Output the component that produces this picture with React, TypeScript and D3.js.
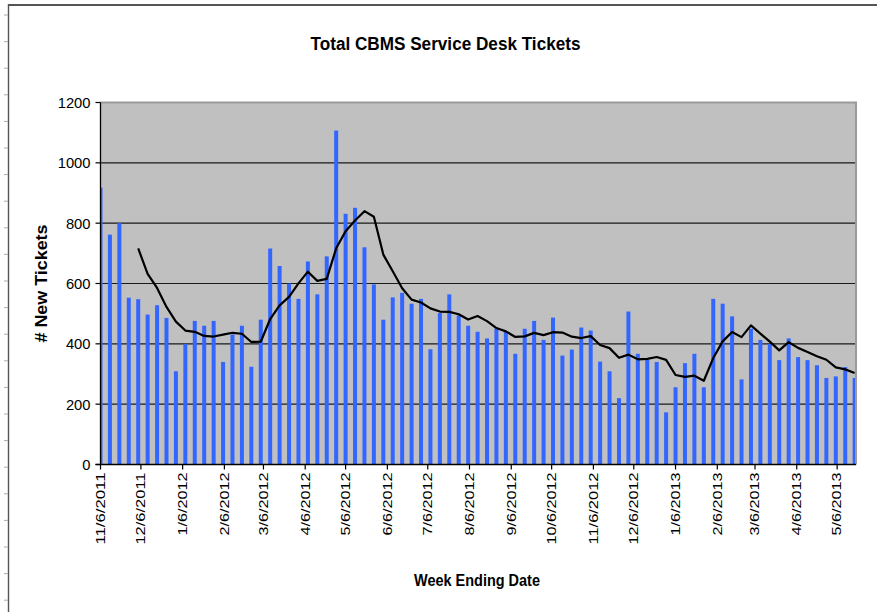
import React from 'react';
import * as d3 from 'd3';

const weekEnding = [
  '2011-11-06', '2011-11-13', '2011-11-20', '2011-11-27', '2011-12-04', '2011-12-11', '2011-12-18', '2011-12-25',
  '2012-01-01', '2012-01-08', '2012-01-15', '2012-01-22', '2012-01-29', '2012-02-05', '2012-02-12', '2012-02-19',
  '2012-02-26', '2012-03-04', '2012-03-11', '2012-03-18', '2012-03-25', '2012-04-01', '2012-04-08', '2012-04-15',
  '2012-04-22', '2012-04-29', '2012-05-06', '2012-05-13', '2012-05-20', '2012-05-27', '2012-06-03', '2012-06-10',
  '2012-06-17', '2012-06-24', '2012-07-01', '2012-07-08', '2012-07-15', '2012-07-22', '2012-07-29', '2012-08-05',
  '2012-08-12', '2012-08-19', '2012-08-26', '2012-09-02', '2012-09-09', '2012-09-16', '2012-09-23', '2012-09-30',
  '2012-10-07', '2012-10-14', '2012-10-21', '2012-10-28', '2012-11-04', '2012-11-11', '2012-11-18', '2012-11-25',
  '2012-12-02', '2012-12-09', '2012-12-16', '2012-12-23', '2012-12-30', '2013-01-06', '2013-01-13', '2013-01-20',
  '2013-01-27', '2013-02-03', '2013-02-10', '2013-02-17', '2013-02-24', '2013-03-03', '2013-03-10', '2013-03-17',
  '2013-03-24', '2013-03-31', '2013-04-07', '2013-04-14', '2013-04-21', '2013-04-28', '2013-05-05', '2013-05-12',
  '2013-05-19',
];

const newTickets = [
  918, 762, 800, 553, 548, 497, 528, 486, 309, 400, 476, 460, 476, 340, 431, 460,
  324, 480, 716, 658, 600, 549, 673, 564, 690, 1107, 831, 851, 720, 597, 480, 554,
  569, 533, 549, 382, 502, 564, 494, 460, 440, 418, 450, 439, 367, 450, 476, 413,
  487, 361, 381, 454, 444, 341, 309, 220, 507, 367, 347, 340, 173, 256, 336, 367,
  256, 549, 533, 491, 282, 450, 413, 400, 346, 418, 356, 346, 329, 287, 292, 323,
  287,
];

const movingAverage: (number | null)[] = [
  null, null, null, null, 716.2, 632, 585.2, 522.4, 473.6, 444, 439.8, 426.2, 424.2, 430.4, 436.6, 433.4,
  406.2, 407, 482.2, 527.6, 555.6, 600.6, 639.2, 608.8, 615.2, 716.6, 773, 808.6, 839.8, 821.2, 695.8, 640.4,
  584, 546.6, 537, 517.4, 507, 506, 498.2, 480.4, 492, 475.2, 452.4, 441.4, 422.8, 424.8, 436.4, 429,
  438.6, 437.4, 423.6, 419.2, 425.4, 396.2, 385.8, 353.6, 364.2, 348.8, 350, 356.2, 346.8, 296.6, 290.4, 294.4,
  277.6, 352.8, 408.2, 439.2, 422.2, 461, 433.8, 407.2, 378.2, 405.4, 386.6, 373.2, 359, 347.2, 322, 315.4,
  303.6,
];

const xTickDates = [
  '2011-11-06', '2011-12-06', '2012-01-06', '2012-02-06', '2012-03-06', '2012-04-06', '2012-05-06',
  '2012-06-06', '2012-07-06', '2012-08-06', '2012-09-06', '2012-10-06', '2012-11-06', '2012-12-06',
  '2013-01-06', '2013-02-06', '2013-03-06', '2013-04-06', '2013-05-06',
];
const xTickLabels = [
  '11/6/2011', '12/6/2011', '1/6/2012', '2/6/2012', '3/6/2012', '4/6/2012', '5/6/2012',
  '6/6/2012', '7/6/2012', '8/6/2012', '9/6/2012', '10/6/2012', '11/6/2012', '12/6/2012',
  '1/6/2013', '2/6/2013', '3/6/2013', '4/6/2013', '5/6/2013',
];
const yTicks = [0, 200, 400, 600, 800, 1000, 1200];

const axisStart = '2011-11-06';
const axisEnd = '2013-05-20';

const W = 877;
const H = 612;
const PL = 100.5;
const PR = 856;
const PT = 102.5;
const PB = 464.5;

const FONT = '"Liberation Sans", Arial, Helvetica, sans-serif';

function labelLen(s: string) {
  let em = 0;
  for (const ch of s) em += ch === '/' ? 0.278 : 0.556;
  return em * 16.2;
}

export default function App() {
  const parse = d3.utcParse('%Y-%m-%d');
  const x = d3.scaleUtc().domain([parse(axisStart)!, parse(axisEnd)!]).range([PL, PR]);
  const y = d3.scaleLinear().domain([0, 1200]).range([PB, PT]);

  const dates = weekEnding.map((d) => parse(d)!);
  const line = d3
    .line<number>()
    .defined((_, i) => movingAverage[i] != null)
    .x((_, i) => x(dates[i]))
    .y((_, i) => y(movingAverage[i] as number));
  const linePath = line(newTickets.map((_, i) => i)) || '';

  const rulerYs = d3.range(15, H, 26.6);
  const barW = 4;

  return (
    <svg
      width={W}
      height={H}
      style={{ position: 'absolute', left: 0, top: 0, background: '#fff' }}
      fontFamily={FONT}
    >
      <defs>
        <clipPath id="plotClip">
          <rect x={PL} y={PT} width={PR - PL} height={PB - PT} />
        </clipPath>
      </defs>
      <rect x={0} y={0} width={W} height={H} fill="#fff" />
      {/* outer frame */}
      <line x1={8.5} y1={5} x2={W} y2={5} stroke="#555" strokeWidth={2} />
      <line x1={8.5} y1={4} x2={8.5} y2={H} stroke="#555" strokeWidth={1.4} />
      {rulerYs.map((ry, i) => (
        <line key={i} x1={4} x2={8} y1={ry} y2={ry} stroke="#aaa" strokeWidth={1} />
      ))}

      {/* title */}
      <text
        x={445.5}
        y={50}
        textAnchor="middle"
        fontSize={18}
        fontWeight="bold"
        textLength={270}
        lengthAdjust="spacingAndGlyphs"
        fill="#000"
      >
        Total CBMS Service Desk Tickets
      </text>

      {/* plot area */}
      <rect x={PL} y={PT} width={PR - PL} height={PB - PT} fill="#c0c0c0" />
      {yTicks
        .filter((t) => t > 0 && t < 1200)
        .map((t) => (
          <line key={t} x1={PL} x2={PR} y1={y(t)} y2={y(t)} stroke="#1a1a1a" strokeWidth={1.2} />
        ))}

      {/* bars */}
      <g clipPath="url(#plotClip)">
        {newTickets.map((v, i) => (
          <rect
            key={i}
            x={x(dates[i]) - barW / 2}
            y={y(v)}
            width={barW}
            height={PB - y(v)}
            fill="#3366ff"
          />
        ))}
      </g>
      <polyline
        points={`${PL},${PT} ${PR},${PT} ${PR},${PB}`}
        fill="none"
        stroke="#9a9a9a"
        strokeWidth={2}
      />

      {/* moving average */}
      <path d={linePath} fill="none" stroke="#000" strokeWidth={2.2} strokeLinejoin="round" />

      {/* axes */}
      <line x1={PL} x2={PL} y1={PT} y2={PB} stroke="#000" strokeWidth={1.3} />
      <line x1={PL - 5} x2={PR} y1={PB} y2={PB} stroke="#000" strokeWidth={1.3} />
      {yTicks.map((t) => (
        <g key={t}>
          <line x1={PL - 5} x2={PL} y1={y(t)} y2={y(t)} stroke="#000" strokeWidth={1.2} />
          <text
            x={90.5}
            y={y(t) + 5.5}
            textAnchor="end"
            fontSize={15.5}
            textLength={String(t).length * 8.2}
            lengthAdjust="spacingAndGlyphs"
            fill="#000"
          >
            {t}
          </text>
        </g>
      ))}
      {xTickDates.map((d, i) => {
        const tx = x(parse(d)!);
        return (
          <g key={d}>
            <line x1={tx} x2={tx} y1={PB} y2={PB + 5} stroke="#000" strokeWidth={1.2} />
            <text
              transform={`translate(${tx},${PB + 8}) rotate(-90)`}
              textAnchor="end"
              dy="0.36em"
              fontSize={12}
              textLength={labelLen(xTickLabels[i])}
              lengthAdjust="spacingAndGlyphs"
              fill="#000"
            >
              {xTickLabels[i]}
            </text>
          </g>
        );
      })}

      {/* axis titles */}
      <text
        transform={`translate(47,${(PT + PB) / 2}) rotate(-90)`}
        textAnchor="middle"
        fontSize={16}
        fontWeight="bold"
        textLength={118}
        lengthAdjust="spacingAndGlyphs"
        fill="#000"
      >
        # New Tickets
      </text>
      <text
        x={477}
        y={586}
        textAnchor="middle"
        fontSize={16}
        fontWeight="bold"
        textLength={126}
        lengthAdjust="spacingAndGlyphs"
        fill="#000"
      >
        Week Ending Date
      </text>
    </svg>
  );
}
